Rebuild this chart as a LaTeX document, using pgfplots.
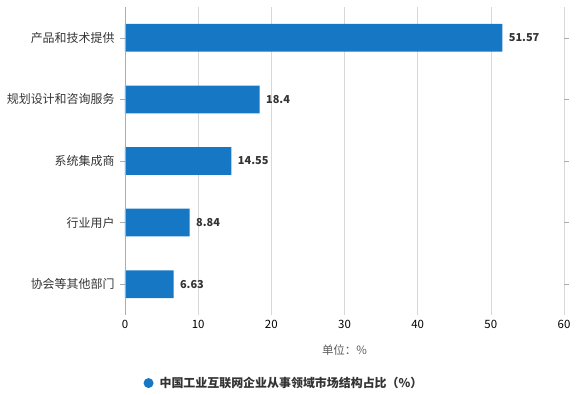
\documentclass[border=0pt]{standalone}
\usepackage{fontspec}
\setmainfont{Noto Sans CJK SC}
\usepackage{pgfplots}
\pgfplotsset{compat=1.18}
\definecolor{barblue}{RGB}{22,119,196}
\definecolor{txt}{RGB}{51,51,51}
\definecolor{tick}{RGB}{90,90,90}
\definecolor{gridc}{RGB}{215,215,215}
\begin{document}
\begin{tikzpicture}
\begin{axis}[
  scale only axis,
  width=439bp, height=308bp,
  xbar,
  xmin=0, xmax=60,
  ymin=-0.5, ymax=4.5,
  xtick={0,10,...,60},
  ytick={0,1,2,3,4},
  yticklabels={协会等其他部门,行业用户,系统集成商,规划设计和咨询服务,产品和技术提供},
  bar width=0.45,
  axis line style={draw=none},
  xmajorgrids, grid style={gridc, line width=0.6bp},
  major x tick style={draw=none},
  y tick style={gridc!80!black, line width=0.6bp},
  ytick align=outside,
  major tick length=5bp,
  tick label style={font=\fontsize{11.5}{13}\selectfont},
  xticklabel style={tick, yshift=-2bp},
  yticklabel style={txt, font=\fontsize{12}{14}\selectfont, xshift=-2bp},
  /pgf/number format/assume math mode=true,
  xlabel={单位：\%},
  xlabel style={font=\fontsize{11.5}{13}\selectfont, text=tick, at={(axis description cs:0.5,-0.115)}, anchor=center},
  nodes near coords,
  nodes near coords style={font=\bfseries\fontsize{11}{12}\selectfont, text=txt, anchor=west, xshift=3bp},
  point meta=explicit symbolic,
  legend style={draw=none, fill=none, at={(axis description cs:0.035,-0.221)}, anchor=west, font=\bfseries\fontsize{12}{14}\selectfont, text=txt, nodes={inner xsep=6bp}},
  legend image code/.code={\fill[barblue] (0.15cm,0cm) circle (5bp);},
  clip=false,
]
\addplot[fill=barblue, draw=none] coordinates {
  (6.63,0) [6.63]
  (8.84,1) [8.84]
  (14.55,2) [14.55]
  (18.4,3) [18.4]
  (51.57,4) [51.57]
};
\addlegendentry{中国工业互联网企业从事领域市场结构占比（\%）}
\draw[gridc!80!black, line width=0.6bp] (axis cs:0,-0.5) -- (axis cs:0,4.5);
\end{axis}
\path (current axis.south west) ++(-125bp,315bp) coordinate (tl);
\path (current axis.south west) ++(455bp,-80bp) coordinate (br);
\useasboundingbox (tl) rectangle (br);
\end{tikzpicture}
\end{document}
